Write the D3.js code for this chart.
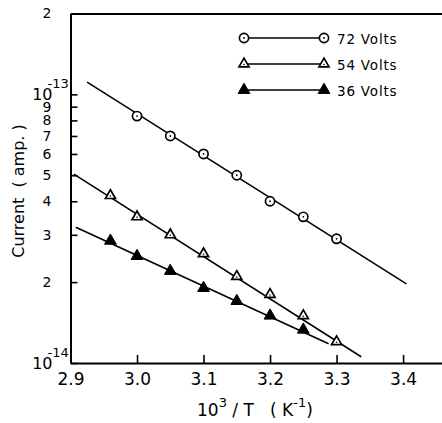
<!DOCTYPE html>
<html>
<head>
<meta charset="utf-8">
<script src="https://cdn.jsdelivr.net/npm/d3@7"></script>
<style>
  html, body { margin: 0; padding: 0; background: #fff; }
  svg { display: block; }
  text { font-family: "DejaVu Sans", sans-serif; fill: #000; }
</style>
</head>
<body>
<svg id="chart" width="442" height="423"></svg>
<script>
// ---- data ----
const xTicks = [2.9, 3.0, 3.1, 3.2, 3.3, 3.4];
const yTicks = [1e-14, 2e-14, 3e-14, 4e-14, 5e-14, 6e-14, 7e-14, 8e-14, 9e-14, 1e-13, 2e-13];
const seriesNames = ["72 Volts", "54 Volts", "36 Volts"];

const x72 = [3.00, 3.05, 3.10, 3.15, 3.20, 3.25, 3.30];
const y72 = [8.3e-14, 7.0e-14, 6.0e-14, 5.0e-14, 4.0e-14, 3.5e-14, 2.9e-14];
const x54 = [2.96, 3.00, 3.05, 3.10, 3.15, 3.20, 3.25, 3.30];
const y54 = [4.2e-14, 3.5e-14, 3.0e-14, 2.55e-14, 2.1e-14, 1.8e-14, 1.5e-14, 1.2e-14];
const x36 = [2.96, 3.00, 3.05, 3.10, 3.15, 3.20, 3.25];
const y36 = [2.85e-14, 2.5e-14, 2.2e-14, 1.9e-14, 1.7e-14, 1.5e-14, 1.33e-14];

// fitted straight lines (end points)
const fit72X = [2.925, 3.405], fit72Y = [1.11e-13, 1.97e-14];
const fit54X = [2.905, 3.337], fit54Y = [5.05e-14, 1.055e-14];
const fit36X = [2.908, 3.288], fit36Y = [3.2e-14, 1.18e-14];

(function () {
// ---- layout ----
const svg = d3.select("#chart");
const mLeft = 70.5, mRight = 442, mTop = 13.5, mBottom = 363;

const x = d3.scaleLinear().domain([2.9, 3.4585]).range([mLeft, mRight]);
const y = d3.scaleLog().domain([1e-14, 2e-13]).range([mBottom, mTop]);

// bottom axis (ticks pointing inward)
const gx = svg.append("g").attr("transform", `translate(0,${mBottom})`)
  .call(d3.axisBottom(x).tickValues(xTicks).tickFormat(d3.format(".1f"))
    .tickSizeInner(-8).tickSizeOuter(0).tickPadding(10));
gx.select(".domain").attr("stroke-width", 2);
gx.selectAll(".tick line").attr("stroke-width", 1.6);
gx.selectAll(".tick text").style("font-size", "17px").style("font-family", "'DejaVu Sans', sans-serif");

// top frame line
svg.append("g").attr("transform", `translate(0,${mTop})`)
  .call(d3.axisTop(x).tickValues([]).tickSizeOuter(0))
  .select(".domain").attr("stroke-width", 2);

// left axis
const isPow10 = d => Math.abs(Math.log10(d) - Math.round(Math.log10(d))) < 1e-9;
const gy = svg.append("g").attr("transform", `translate(${mLeft},0)`)
  .call(d3.axisLeft(y).tickValues(yTicks)
    .tickFormat(d => isPow10(d) ? "10" : String(Math.round(d / Math.pow(10, Math.floor(Math.log10(d) + 1e-9)))))
    .tickSizeInner(-7).tickSizeOuter(0).tickPadding(19));
gy.select(".domain").attr("stroke-width", 2);
gy.selectAll(".tick line").attr("stroke-width", 1.6);
gy.selectAll(".tick text").style("font-size", "14px").style("font-family", "'DejaVu Sans', sans-serif");
gy.selectAll(".tick").filter(d => isPow10(d)).each(function(d) {
  const g = d3.select(this);
  g.select("text").style("font-size", "16px").attr("x", -18).attr("dy", "0.33em");
  g.append("text")
    .attr("x", -23).attr("y", -7)
    .attr("text-anchor", "start")
    .style("font-size", "13px")
    .style("font-family", "'DejaVu Sans', sans-serif")
    .attr("fill", "#000")
    .text(String(Math.round(Math.log10(d))));
});

// axis titles
svg.append("text")
  .attr("transform", "translate(24,191) rotate(-90)")
  .attr("text-anchor", "middle")
  .style("font-size", "16px")
  .style("white-space", "pre")
  .text("Current  ( amp. )");

const xt = svg.append("text").attr("x", 197).attr("y", 416).style("font-size", "17px").style("white-space", "pre");
xt.append("tspan").text("10");
xt.append("tspan").attr("dy", -9).style("font-size", "13px").text("3");
xt.append("tspan").attr("dy", 9).text(" / T   ( K");
xt.append("tspan").attr("dy", -9).style("font-size", "13px").text("-1");
xt.append("tspan").attr("dy", 9).text(")");

// ---- lines and markers ----
const plot = svg.append("g");
const line = d3.line().x(d => x(d[0])).y(d => y(d[1]));
const fits = [[fit72X, fit72Y], [fit54X, fit54Y], [fit36X, fit36Y]];
fits.forEach(([fx, fy]) => {
  plot.append("path").datum(d3.zip(fx, fy)).attr("d", line)
    .attr("fill", "none").attr("stroke", "#000").attr("stroke-width", 1.6);
});

const tri = d3.symbol().type(d3.symbolTriangle);
function circleMarker(g, cx, cy) {
  g.append("circle").attr("cx", cx).attr("cy", cy).attr("r", 4.6)
    .attr("fill", "#fff").attr("stroke", "#000").attr("stroke-width", 1.7);
  g.append("circle").attr("cx", cx).attr("cy", cy).attr("r", 0.9).attr("fill", "#000");
}
function openTri(g, cx, cy) {
  g.append("path").attr("d", tri.size(44)()).attr("transform", `translate(${cx},${cy})`)
    .attr("fill", "#fff").attr("stroke", "#000").attr("stroke-width", 1.7).attr("stroke-linejoin", "miter");
  g.append("circle").attr("cx", cx).attr("cy", cy + 0.5).attr("r", 0.8).attr("fill", "#000");
}
function filledTri(g, cx, cy) {
  g.append("path").attr("d", tri.size(60)()).attr("transform", `translate(${cx},${cy})`)
    .attr("fill", "#000").attr("stroke", "#000").attr("stroke-width", 1);
}

d3.zip(x72, y72).forEach(d => circleMarker(plot, x(d[0]), y(d[1])));
d3.zip(x54, y54).forEach(d => openTri(plot, x(d[0]), y(d[1])));
d3.zip(x36, y36).forEach(d => filledTri(plot, x(d[0]), y(d[1])));

// ---- legend ----
const legend = svg.append("g");
const markerFns = [circleMarker, openTri, filledTri];
seriesNames.forEach((name, i) => {
  const ly = 38 + i * 26, lx0 = 244, lx1 = 324;
  legend.append("line").attr("x1", lx0).attr("x2", lx1).attr("y1", ly).attr("y2", ly)
    .attr("stroke", "#000").attr("stroke-width", 1.6);
  markerFns[i](legend, lx0, ly);
  markerFns[i](legend, lx1, ly);
  legend.append("text").attr("x", 337).attr("y", ly + 5.5)
    .style("font-size", "13.5px").style("letter-spacing", "0.8px").text(name);
});
})();
</script>
</body>
</html>
